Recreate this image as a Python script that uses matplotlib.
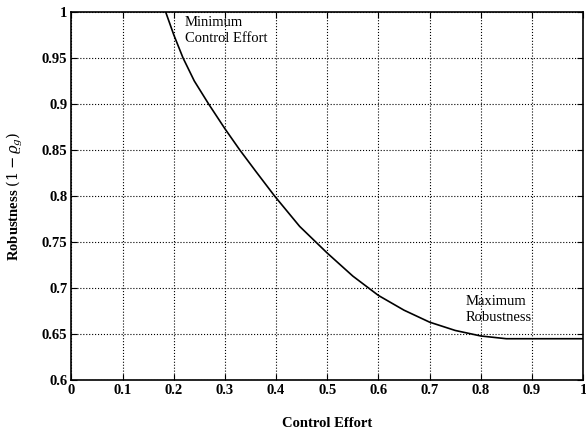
import matplotlib
matplotlib.use("Agg")
import matplotlib.pyplot as plt

# tradeoff curve
control_effort = [0.184, 0.20, 0.218, 0.24, 0.268, 0.30, 0.329, 0.36, 0.397, 0.446,
                  0.50, 0.55, 0.60, 0.65, 0.70, 0.75, 0.80, 0.85, 0.90, 1.00]
robustness = [1.0, 0.975, 0.95, 0.925, 0.90, 0.873, 0.85, 0.827, 0.80, 0.767,
              0.738, 0.713, 0.692, 0.676, 0.663, 0.654, 0.648, 0.645, 0.645, 0.645]

x_ticks = [0, 0.1, 0.2, 0.3, 0.4, 0.5, 0.6, 0.7, 0.8, 0.9, 1]
x_tick_labels = ["0", "0.1", "0.2", "0.3", "0.4", "0.5", "0.6", "0.7", "0.8", "0.9", "1"]
y_ticks = [0.6, 0.65, 0.7, 0.75, 0.8, 0.85, 0.9, 0.95, 1]
y_tick_labels = ["0.6", "0.65", "0.7", "0.75", "0.8", "0.85", "0.9", "0.95", "1"]

plt.rcParams["font.family"] = "Liberation Serif"
plt.rcParams["mathtext.fontset"] = "dejavuserif"

fig = plt.figure(figsize=(5.86, 4.4), dpi=100)
ax = fig.add_axes([0.122, 0.136, 0.873, 0.837])

ax.plot(control_effort, robustness, color="black", linewidth=1.2)

ax.set_xlim(0, 1)
ax.set_ylim(0.6, 1)
ax.set_xticks(x_ticks)
ax.set_xticklabels(x_tick_labels, fontsize=10.5, fontweight="bold")
ax.set_yticks(y_ticks)
ax.set_yticklabels(y_tick_labels, fontsize=10.5, fontweight="bold")
ax.tick_params(direction="in", top=True, right=True, length=4, pad=3)
ax.grid(True, color="black", linestyle=":", linewidth=0.8)

for s in ax.spines.values():
    s.set_linewidth(1.2)

ax.set_xlabel("Control Effort", fontsize=10.5, fontweight="bold", labelpad=14)
ax.set_ylabel(r"Robustness $(1-\varrho_g)$", fontsize=10.5, fontweight="bold", labelpad=12)

ax.text(0.222, 0.995, "Minimum\nControl Effort", fontsize=10.5, va="top", ha="left",
        linespacing=1.25)
ax.text(0.771, 0.692, "Maximum\nRobustness", fontsize=10.5, va="top", ha="left",
        linespacing=1.25)

fig.savefig("out.png", dpi=100)
